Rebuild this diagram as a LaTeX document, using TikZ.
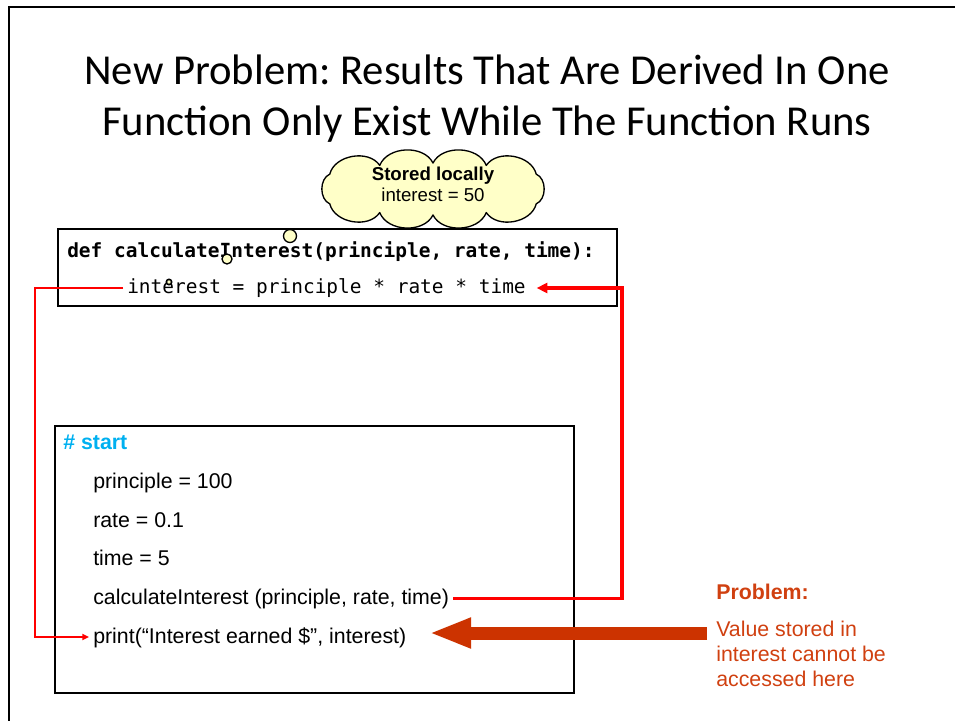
\documentclass[tikz,border=0pt]{standalone}
\usepackage{fontspec}
\setmainfont{Liberation Sans}
\newfontfamily\titlefont{Carlito}
\newfontfamily\codefont{DejaVu Sans Mono}
\usetikzlibrary{arrows.meta}
\frenchspacing

\definecolor{linkred}{RGB}{255,0,0}
\definecolor{startblue}{RGB}{0,176,240}
\definecolor{warnarrow}{RGB}{204,51,0}
\definecolor{warntext}{RGB}{208,64,16}
\definecolor{cloudfill}{RGB}{255,255,200}

\begin{document}
\begin{tikzpicture}[x=0.75pt,y=-0.75pt,
  frameline/.style={line width=2.2pt},
  codebox/.style={draw, line width=1.5pt, inner sep=0pt, anchor=north west},
  codeline/.style={font=\codefont\fontsize{14.6}{17}\selectfont, inner sep=3pt, anchor=base west},
  bodyline/.style={font=\fontsize{16}{19}\selectfont, inner sep=3pt, anchor=base west},
  titletext/.style={font=\titlefont\fontsize{32}{38}\selectfont, inner sep=0pt, anchor=base},
  cloudline/.style={draw, line width=1pt, fill=cloudfill, line join=round},
  bubble/.style={circle, draw, fill=cloudfill, line width=1pt, inner sep=0pt},
  link/.style={draw=linkred, line width=2.6pt, -{Triangle[length=8pt,width=7.5pt]}},
  thinlink/.style={draw=linkred, line width=1.6pt, -{Triangle[length=5pt,width=4.5pt]}},
  bigarrow/.style={draw=warnarrow, line width=9.75pt, -{Triangle[length=31.5pt,width=21pt]}},
  notetext/.style={font=\fontsize{16}{18.75}\selectfont, text=warntext, inner sep=0pt}
]
\useasboundingbox (0,0) rectangle (955,720);

% slide frame
\draw[frameline] (9,722) -- (9,7) -- (957,7);

% title
\node[titletext] (title1) at (487,85) {New Problem: Results That Are Derived In One};
\node[titletext] (title2) at (487,136) {Function Only Exist While The Function Runs};

% thought cloud: puffs strung round an ellipse
\path[cloudline] ({433+126*cos(-35)},{189+26*sin(-35)})
  \foreach \a in {35,65,90,115,145,215,245,270,295,325}
    { to[bend left=66] ({433+126*cos(\a)},{189+26*sin(\a)}) } -- cycle;
\node[align=center, inner sep=0pt, font=\fontsize{14}{16.5}\selectfont] (memotext) at (433,184)
      {\textbf{Stored locally}\\[-0.5pt]interest = 50};

% function definition
\node[codebox, minimum width=419pt, minimum height=58pt] (funcbox) at (57,228) {};
\node[codeline, font=\codefont\bfseries\fontsize{14.6}{17}\selectfont] (sig) at (63,257)
      {def calculateInterest(principle, rate, time):};
\node[codeline] (body) at (123,293) {interest = principle * rate * time};

% main program
\node[codebox, minimum width=389pt, minimum height=200pt] (mainbox) at (54,425) {};
\node[bodyline, font=\bfseries\fontsize{16}{19}\selectfont, text=startblue] (start) at (59,449) {\# start};
\node[bodyline] (setp) at (89,488) {principle = 100};
\node[bodyline] (setr) at (89,527) {rate = 0.1};
\node[bodyline] (sett) at (89,565) {time = 5};
\node[bodyline] (call) at (89,604) {calculateInterest (principle, rate, time)};
\node[bodyline] (show) at (89,643) {print(“Interest earned \$”, interest)};

% cloud tail
\node[bubble, minimum size=9.75pt] (tail1) at (290,236) {};
\node[bubble, minimum size=7.5pt] (tail2) at (227,259) {};
\node[bubble, minimum size=4pt, line width=1.2pt] (tail3) at (169,282) {};

% control flow: call into the function, then back to print
\coordinate (turnR) at (622,288);
\draw[link, shorten >=5pt] (call.east) -| (turnR) -- (turnR -| body.east);
\coordinate (turnL) at (35,637);
\draw[thinlink] (body.west) -| (turnL) -- (turnL -| show.west);

% problem note
\coordinate (warnstart) at (707,633);
\draw[bigarrow, shorten >=14pt] (warnstart) -- (warnstart -| show.east);
\node[notetext, font=\bfseries\fontsize{16}{19}\selectfont, anchor=base west] (probhead) at (716,599) {Problem:};
\node[notetext, anchor=north west, align=left] (probtext) at (716,621)
      {Value stored in\\interest cannot be\\accessed here};
\end{tikzpicture}
\end{document}
